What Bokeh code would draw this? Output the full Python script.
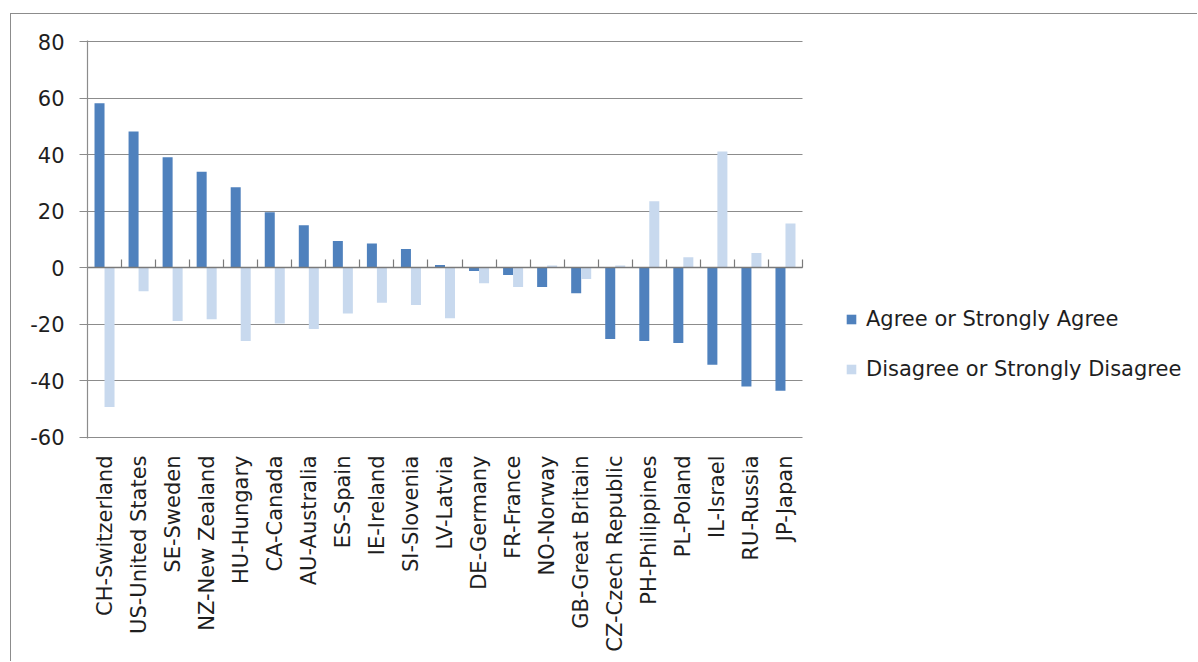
from bokeh.plotting import figure
from bokeh.models import (Range1d, LinearAxis, FixedTicker, Legend, Grid,
                          LegendItem, ColumnDataSource)
from bokeh.transform import dodge
from bokeh.embed import file_html
from bokeh.resources import INLINE

# Net agreement by country, two response groups
countries = ["CH-Switzerland", "US-United States", "SE-Sweden", "NZ-New Zealand",
             "HU-Hungary", "CA-Canada", "AU-Australia", "ES-Spain", "IE-Ireland",
             "SI-Slovenia", "LV-Latvia", "DE-Germany", "FR-France", "NO-Norway",
             "GB-Great Britain", "CZ-Czech Republic", "PH-Philippines", "PL-Poland",
             "IL-Israel", "RU-Russia", "JP-Japan"]
agree = [58.2, 48.2, 39.1, 34.0, 28.5, 19.6, 15.0, 9.5, 8.6,
         6.6, 1.0, -1.1, -2.6, -6.8, -9.0, -25.2, -25.9, -26.6,
         -34.3, -42.0, -43.5]
disagree = [-49.3, -8.3, -18.8, -18.2, -25.9, -19.7, -21.7, -16.2, -12.4,
            -13.2, -17.9, -5.5, -6.8, 0.8, -4.0, 0.8, 23.5, 3.7,
            41.1, 5.2, 15.7]
series_names = ["Agree or Strongly Agree", "Disagree or Strongly Disagree"]
y_ticks = [-60, -40, -20, 0, 20, 40, 60, 80]

DARK = "#4F81BD"
LIGHT = "#C8D9EE"
GRID = "#8C8C8C"
TEXT = "#1E1E1E"
FONT = "DejaVu Sans"

n = len(countries)
slots = [i + 0.5 for i in range(n)]          # category centres
edges = [i + 1 for i in range(n)]            # category boundaries
src = ColumnDataSource(dict(slot=slots, country=countries, agree=agree, disagree=disagree))

# page layout (pixels): the plotting frame runs to the right edge so the
# legend can sit inside it; bars, gridlines and the zero line stop at n.
FIG_W, FIG_H = 1187, 648
LEFT, TOP, BOTTOM = 76, 26, 224
BARS_W = 715
frame_w = FIG_W - LEFT
x_end = n * frame_w / BARS_W

pad = 0.4   # keeps the end gridlines from being clipped by the frame
p = figure(width=FIG_W, height=FIG_H,
           x_range=Range1d(0, x_end),
           y_range=Range1d(y_ticks[0] - pad, y_ticks[-1] + pad),
           output_backend="svg", toolbar_location=None,
           min_border_left=LEFT, min_border_right=0,
           min_border_top=TOP, min_border_bottom=BOTTOM)
p.margin = (13, 0, 0, 10)
p.styles = {"border-left": "1px solid #8C8C8C", "border-top": "1px solid #8C8C8C"}
p.outline_line_color = None
p.background_fill_color = "white"
p.border_fill_color = "white"

bar_w = 0.294
r_agree = p.vbar(x=dodge("slot", -bar_w / 2), top="agree", bottom=0,
                 width=bar_w, fill_color=DARK, line_color=None, source=src)
r_dis = p.vbar(x=dodge("slot", bar_w / 2), top="disagree", bottom=0,
               width=bar_w, fill_color=LIGHT, line_color=None, source=src)

# horizontal gridlines, limited to the category span
p.xgrid.visible = False
if "cross_bounds" in Grid.properties():
    p.ygrid.ticker = FixedTicker(ticks=y_ticks)
    p.ygrid.cross_bounds = (0, n)
    p.ygrid.grid_line_color = GRID
    p.ygrid.grid_line_width = 1.2
else:
    p.ygrid.visible = False
    for t in y_ticks:
        if t == 0:
            continue
        p.add_layout(LinearAxis(fixed_location=t, bounds=(0, n),
                                ticker=FixedTicker(ticks=[]),
                                major_tick_line_color=None, minor_tick_line_color=None,
                                axis_line_color=GRID, axis_line_width=1.2,
                                major_label_text_color=None,
                                major_label_text_font_size="1px"), "below")

# value axis
yax = p.yaxis[0]
yax.ticker = FixedTicker(ticks=y_ticks)
yax.major_label_overrides = {t: str(t) for t in y_ticks}
yax.major_tick_out = 8
yax.major_tick_in = 0
yax.minor_tick_line_color = None
yax.axis_line_color = GRID
yax.axis_line_width = 1.2
yax.major_tick_line_color = GRID
yax.major_label_standoff = 15
yax.major_label_text_font = FONT
yax.major_label_text_font_size = "21px"
yax.major_label_text_color = TEXT

# category labels along the bottom
xax = p.xaxis[0]
xax.ticker = FixedTicker(ticks=slots)
xax.major_label_overrides = {s: c for s, c in zip(slots, countries)}
xax.axis_line_color = None
xax.major_tick_line_color = None
xax.minor_tick_line_color = None
xax.major_tick_out = 0
xax.major_tick_in = 0
xax.major_label_orientation = 3.14159265 / 2
xax.major_label_standoff = 17
xax.major_label_text_font = FONT
xax.major_label_text_font_size = "21px"
xax.major_label_text_color = TEXT

# zero line with tick marks at category boundaries
zax = LinearAxis(fixed_location=0, bounds=(0, n),
                 ticker=FixedTicker(ticks=edges),
                 major_tick_in=8, major_tick_out=0,
                 minor_tick_line_color=None,
                 axis_line_color="#7A7A7A", axis_line_width=1.6,
                 major_tick_line_color="#7A7A7A", major_tick_line_width=1.2,
                 major_label_text_color=None, major_label_text_font_size="1px")
p.add_layout(zax, "below")

legend = Legend(items=[LegendItem(label=series_names[0], renderers=[r_agree]),
                       LegendItem(label=series_names[1], renderers=[r_dis])],
                location=(758, 57), padding=0, margin=0, spacing=26,
                glyph_width=12, glyph_height=12, label_standoff=9,
                label_text_font=FONT, label_text_font_size="21px",
                label_text_color=TEXT,
                border_line_color=None, background_fill_alpha=0)
p.add_layout(legend, "center")

open("out.html", "w").write(file_html(p, INLINE))
